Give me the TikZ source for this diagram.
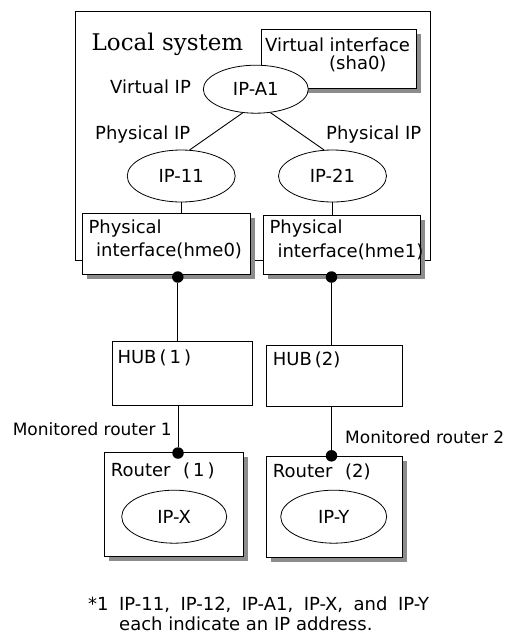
\documentclass[tikz,border=0pt]{standalone}
\usepackage{fontspec}
\setmainfont{DejaVu Sans}
\newfontfamily\titleface{DejaVu Serif}
\usetikzlibrary{shapes.geometric,shadows}
\newcommand\notegap{\hspace{10.5pt}}

\tikzset{
  frame/.style={draw, line width=1pt, inner sep=0pt, fill=white},
  shadowbox/.style={frame, drop shadow={shadow xshift=4.5pt, shadow yshift=-4.5pt, fill=black!45, opacity=1}},
  ipnode/.style={ellipse, draw, line width=0.8pt, fill=white, inner sep=0pt, font=\fontsize{18}{21}\selectfont},
  txt/.style={inner sep=0pt, font=\fontsize{18}{21}\selectfont},
  smalltxt/.style={inner sep=0pt, font=\fontsize{17}{20}\selectfont},
  dotnode/.style={circle, fill=black, inner sep=0pt, minimum size=11.5pt},
  link/.style={line width=0.9pt}
}

\begin{document}
\begin{tikzpicture}[x=1pt, y=-1pt]
\useasboundingbox (0,0) rectangle (512,633);

% local system frame
\node[frame, fill=none, minimum width=355pt, minimum height=249pt] (local) at (252.5,135.5) {};
\node[anchor=base, inner sep=0pt, font=\titleface\fontsize{23}{26}\selectfont] (localtxt) at (167.5,50) {Local system};

% virtual interface and virtual IP
\node[shadowbox, minimum width=155pt, minimum height=59pt] (vif) at (339.2,58.8) {};
\node[txt, anchor=base west] (viftxt) at (265,51.5) {Virtual interface};
\node[txt, anchor=base west] (vifsub) at (329,69.5) {(sha0)};
\node[ipnode, minimum width=105pt, minimum height=48pt] (a1) at (255.8,89.2) {IP-A1};
\node[txt, anchor=base west] (viplbl) at (110,93.5) {Virtual IP};

% physical IPs
\node[ipnode, minimum width=108pt, minimum height=52pt] (ip11) at (181.2,176) {IP-11};
\node[ipnode, minimum width=108pt, minimum height=52pt] (ip21) at (332.5,176) {IP-21};
\draw[link] (a1.241) -- (ip11.72);
\draw[link] (a1.-58) -- (ip21.108);
\node[txt, anchor=base west] (piplbl1) at (95,139.5) {Physical IP};
\node[txt, anchor=base west] (piplbl2) at (326,139.5) {Physical IP};

% physical interfaces
\draw[link] (ip11.south) -- (ip11.south |- 0,213.3);
\draw[link] (ip21.south) -- (ip21.south |- 0,215);
\node[shadowbox, minimum width=167.7pt, minimum height=60.7pt] (hme0) at (166.8,243.7) {};
\node[shadowbox, minimum width=156.7pt, minimum height=59pt] (hme1) at (342.3,244.5) {};
\node[txt, anchor=base west] (hme0a) at (88.3,233) {Physical};
\node[txt, anchor=base west] (hme0b) at (96,256.7) {interface(hme0)};
\node[txt, anchor=base west] (hme1a) at (269.3,233) {Physical};
\node[txt, anchor=base west] (hme1b) at (277.3,257) {interface(hme1)};

% hubs
\node[frame, minimum width=139.6pt, minimum height=64.3pt] (hub1) at (182.5,373.8) {};
\node[frame, minimum width=136.3pt, minimum height=61pt] (hub2) at (334.2,375.5) {};
\node[txt, anchor=base west] (hub1txt) at (117.3,363.3) {HUB\,(\,1\,)};
\node[txt, anchor=base west] (hub2txt) at (272.7,365) {HUB\,(2)};

% routers
\node[shadowbox, minimum width=139.3pt, minimum height=104pt] (r1) at (173.7,504.7) {};
\node[shadowbox, minimum width=136.3pt, minimum height=101pt] (r2) at (334.2,506.5) {};
\node[txt, anchor=base west] (r1txt) at (110.7,476) {Router\hspace{0.7em}(\,1\,)};
\node[txt, anchor=base west] (r2txt) at (272.7,477.3) {Router\hspace{0.7em}(2)};
\node[ipnode, minimum width=105pt, minimum height=53pt] (ipx) at (174.2,516.7) {IP-X};
\node[ipnode, minimum width=106pt, minimum height=53pt] (ipy) at (333.7,516.7) {IP-Y};

% connection points
\node[dotnode] (d1) at (177.8,277) {};
\node[dotnode] (d2) at (331.5,277) {};
\node[dotnode] (rd1) at (178,453) {};
\node[dotnode] (rd2) at (331.5,455.8) {};
\draw[link] (d1) -- (d1 |- hub1.north);
\draw[link] (d2) -- (d2 |- hub2.north);
\draw[link] (hub1.south -| rd1) -- (rd1);
\draw[link] (hub2.south -| rd2) -- (rd2);
\node[smalltxt, anchor=base east] (mon1) at (172,435) {Monitored router 1};
\node[smalltxt, anchor=base west] (mon2) at (345,443) {Monitored router 2};

% footnote
\node[txt, anchor=base west] (note1) at (88,610) {*1\notegap IP-11,\notegap IP-12,\notegap IP-A1,\notegap IP-X,\notegap and\notegap IP-Y};
\node[txt, anchor=base west] (note2) at (119,630) {each indicate an IP address.};
\end{tikzpicture}
\end{document}
